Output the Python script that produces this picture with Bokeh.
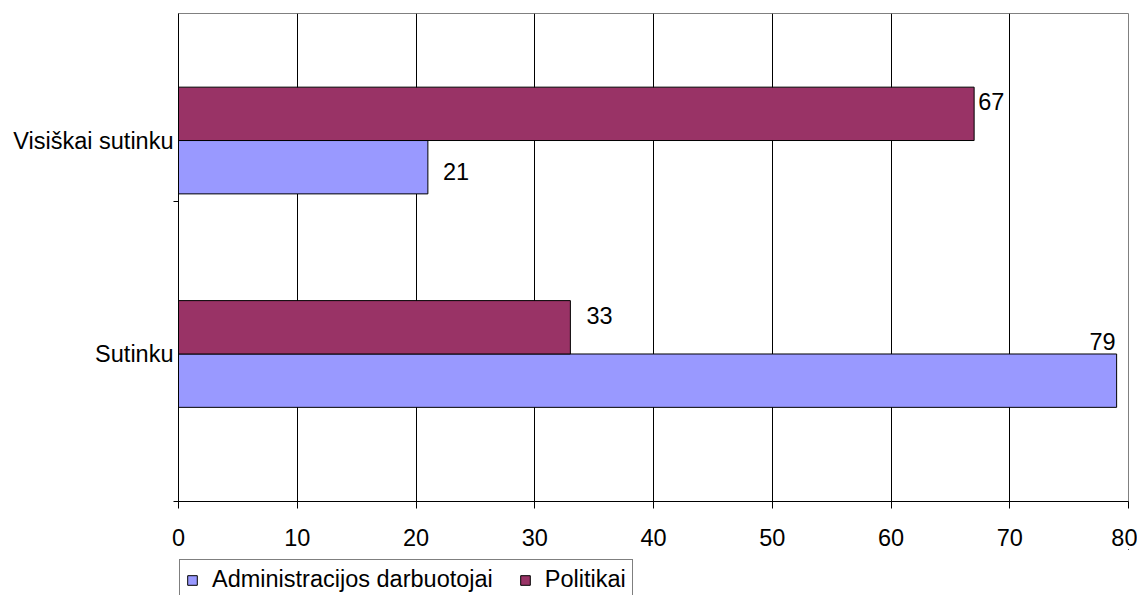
from bokeh.plotting import figure
from bokeh.layouts import column
from bokeh.models import FixedTicker, Legend, LegendItem, Range1d, ColumnDataSource
from bokeh.core.properties import value
from bokeh.embed import file_html
from bokeh.resources import INLINE

# ---- data ----
categories = ["Visiškai sutinku", "Sutinku"]
series_names = ["Administracijos darbuotojai", "Politikai"]
admin_values = [21, 79]
politikai_values = [67, 33]
x_ticks = [0, 10, 20, 30, 40, 50, 60, 70, 80]

# ---- styles ----
FONT = "Liberation Sans"
FS = "23.5px"
admin_color = "#9999FF"
pol_color = "#993366"
cat_pos = [1, 0]          # numeric position of each category (top to bottom)
bar_h = 0.25
y_start, y_end = -0.691, 1.595
boundary_ticks = [-0.691, 0.714]
W = 1137

p = figure(frame_width=950, frame_height=488, output_backend="svg", toolbar_location=None,
           x_range=Range1d(0, 80), y_range=Range1d(y_start, y_end),
           min_border_left=178, min_border_right=9, min_border_top=13,
           min_border_bottom=48)
p.background_fill_color = "white"
p.border_fill_color = "white"
p.outline_line_color = "#808080"
p.outline_line_width = 1

pol_y = [c + bar_h / 2 for c in cat_pos]
adm_y = [c - bar_h / 2 for c in cat_pos]

r_adm = p.hbar(y=adm_y, left=0, right=admin_values, height=bar_h,
               fill_color=admin_color, line_color="black", line_width=1)
r_pol = p.hbar(y=pol_y, left=0, right=politikai_values, height=bar_h,
               fill_color=pol_color, line_color="black", line_width=1)

# data labels (per-label pixel offsets reproduce the original placement)
lab_x = [politikai_values[0], admin_values[0], politikai_values[1], admin_values[1]]
lab_y = [pol_y[0], adm_y[0], pol_y[1], adm_y[1]]
lab_t = [str(v) for v in lab_x]
lab_dx = [4, 15, 16, -1]
lab_dy = [-12, 4, -12, -39]
lab_align = ["left", "left", "left", "right"]
src = ColumnDataSource(dict(x=lab_x, y=lab_y, t=lab_t, dx=lab_dx, dy=lab_dy, al=lab_align))
p.text(x="x", y="y", text="t", x_offset="dx", y_offset="dy", text_align="al",
       text_baseline="middle", text_font=value(FONT), text_font_size=FS,
       text_color="black", source=src)

# grid
p.ygrid.grid_line_color = None
p.xgrid.ticker = FixedTicker(ticks=x_ticks[1:-1])
p.xgrid.grid_line_color = "black"
p.xgrid.grid_line_width = 1

# x axis
xa = p.xaxis[0]
xa.ticker = FixedTicker(ticks=x_ticks)
xa.axis_line_color = "black"
xa.major_tick_line_color = "black"
xa.major_tick_out = 7
xa.major_tick_in = 0
xa.minor_tick_line_color = None
xa.major_label_text_font = FONT
xa.major_label_text_font_size = FS
xa.major_label_text_color = "black"
xa.major_label_standoff = 20

# y axis
ya = p.yaxis[0]
ya.ticker = FixedTicker(ticks=cat_pos, minor_ticks=boundary_ticks)
ya.major_label_overrides = {cp: c for cp, c in zip(cat_pos, categories)}
ya.axis_line_color = "black"
ya.major_tick_out = 0
ya.major_tick_in = 0
ya.minor_tick_out = 5
ya.minor_tick_in = 0
ya.minor_tick_line_color = "black"
ya.major_label_text_font = FONT
ya.major_label_text_font_size = FS
ya.major_label_text_color = "black"
ya.major_label_standoff = 0

# ---- legend strip below the chart ----
# the same bars are drawn here, but outside this strip's visible range,
# so only their legend entries show
p2 = figure(width=W, height=46, output_backend="svg", toolbar_location=None,
            x_range=Range1d(-200, -100), y_range=Range1d(-200, -100),
            min_border_left=178, min_border_right=0, min_border_top=0,
            min_border_bottom=0)
p2.axis.visible = False
p2.grid.visible = False
p2.outline_line_color = None
p2.background_fill_color = "white"
p2.border_fill_color = "white"
lg_adm = p2.hbar(y=adm_y, left=0, right=admin_values, height=bar_h,
                 fill_color=admin_color, line_color="black", line_width=1)
lg_pol = p2.hbar(y=pol_y, left=0, right=politikai_values, height=bar_h,
                 fill_color=pol_color, line_color="black", line_width=1)

legend = Legend(items=[LegendItem(label=series_names[0], renderers=[lg_adm]),
                       LegendItem(label=series_names[1], renderers=[lg_pol])],
                orientation="horizontal", location=(1, -5),
                label_text_font=FONT, label_text_font_size=FS,
                label_text_color="black",
                glyph_width=12, glyph_height=12, label_standoff=14, spacing=26,
                padding=6, margin=0,
                border_line_color="black", border_line_width=1,
                background_fill_color="white", background_fill_alpha=1)
p2.add_layout(legend, "center")

layout = column(p, p2, spacing=0)
open("out.html", "w").write(file_html(layout, INLINE))
